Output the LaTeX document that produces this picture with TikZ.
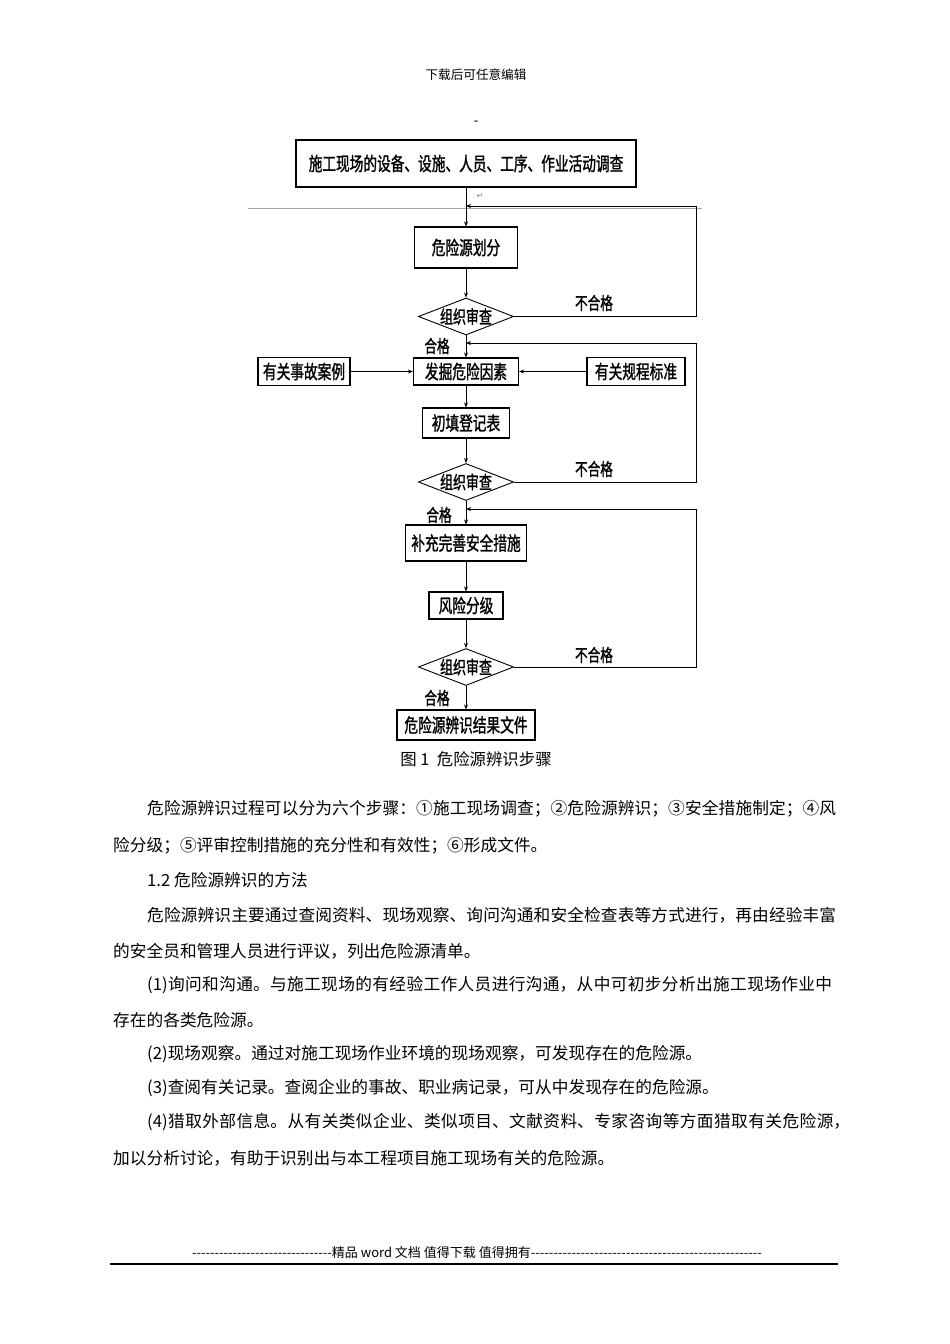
\documentclass[tikz,border=0pt]{standalone}
\usepackage{fontspec}
\setmainfont{Noto Sans CJK SC}
\newfontfamily\flowfont[FakeStretch=0.72,FakeBold=1.2]{Noto Sans CJK SC}
\newfontfamily\symfont{DejaVu Sans}
\usetikzlibrary{shapes.geometric,arrows.meta}
\newcommand\jline[2]{\parbox[c]{#1}{\XeTeXlinebreaklocale "zh"\XeTeXlinebreakskip=0pt plus 1fil\relax\parfillskip=0pt\relax\noindent #2}}
\begin{document}
\begin{tikzpicture}[x=1pt,y=-1pt,
  box/.style={draw,line width=1.2pt,inner sep=0pt,font=\flowfont\fontsize{19}{19}\selectfont},
  dia/.style={draw,diamond,aspect=2.6,inner sep=0pt,line width=0.9pt,minimum width=95pt,minimum height=37pt,font=\flowfont\fontsize{18}{18}\selectfont},
  lab/.style={inner sep=0pt,font=\flowfont\fontsize{17.5}{18}\selectfont},
  arr/.style={line width=0.9pt,-{Stealth[length=5pt,width=4pt]}},
  body/.style={anchor=west,inner sep=0pt,font=\fontsize{16.7}{20}\selectfont},
]
\fill[white] (0,0) rectangle (950,1344);
\useasboundingbox (0,0) rectangle (950,1344);

% header
\node[inner sep=0pt,font=\fontsize{12.6}{13}\selectfont] (hdr) at (476,75) {下载后可任意编辑};
\node[inner sep=0pt,font=\fontsize{14}{14}\selectfont] (dash) at (476,123) {-};

% flowchart nodes
\node[box,minimum width=340,minimum height=47] (b1) at (466,163.5) {施工现场的设备、设施、人员、工序、作业活动调查};
\node[inner sep=0pt,font=\symfont\fontsize{8}{8}\selectfont,text=gray] (ret) at (480,196) {↵};
\coordinate (g1) at (248,208);
\coordinate (g2) at (702,208);
\draw[gray!70,line width=0.8pt] (g1) -- (g2);

\node[box,minimum width=103,minimum height=41] (b2) at (466,247.5) {危险源划分};
\node[dia] (d1) at (466,316.5) {组织审查};
\node[box,minimum width=105,minimum height=27] (b3) at (466,371.5) {发掘危险因素};
\node[box,minimum width=92,minimum height=28] (la) at (304,371.5) {有关事故案例};
\node[box,minimum width=98,minimum height=28] (ra) at (636,371.5) {有关规程标准};
\node[box,minimum width=87,minimum height=30] (b4) at (466,423) {初填登记表};
\node[dia] (d2) at (466,482) {组织审查};
\node[box,minimum width=121,minimum height=36] (b5) at (466,543) {补充完善安全措施};
\node[box,minimum width=74,minimum height=27] (b6) at (466,605.5) {风险分级};
\node[dia] (d3) at (466,667) {组织审查};
\node[box,minimum width=138,minimum height=30] (b7) at (466,725) {危险源辨识结果文件};

% labels
\node[lab] (n1) at (594,303) {不合格};
\node[lab] (n2) at (594,469) {不合格};
\node[lab] (n3) at (594,655) {不合格};
\node[lab] (p1) at (437,346) {合格};
\node[lab] (p2) at (439,515) {合格};
\node[lab] (p3) at (437,698) {合格};

% loop coordinates
\coordinate (j1) at (466,206);
\coordinate (r1) at (696,206);
\coordinate (j2) at (466,343);
\coordinate (r2) at (696,343);
\coordinate (j3) at (466,509);
\coordinate (r3) at (696,509);

% connectors
\draw[arr] (b1) -- (b2);
\draw[arr] (b2) -- (d1);
\draw[arr] (d1.south) -- (b3.north);
\draw[arr] (la) -- (b3);
\draw[arr] (ra) -- (b3);
\draw[arr] (b3) -- (b4);
\draw[arr] (b4) -- (d2.north);
\draw[arr] (d2.south) -- (b5.north);
\draw[arr] (b5) -- (b6);
\draw[arr] (b6) -- (d3.north);
\draw[arr] (d3.south) -- (b7.north);

\draw[arr] (d1.east) -- (d1.east -| r1) -- (r1) -- (j1);
\draw[arr] (d2.east) -- (d2.east -| r2) -- (r2) -- (j2);
\draw[arr] (d3.east) -- (d3.east -| r3) -- (r3) -- (j3);

% caption
\node[inner sep=0pt,font=\fontsize{16.4}{17}\selectfont] (cap) at (476,759) {图 1\ \ 危险源辨识步骤};

% body text
\node[body] (t1) at (147,809) {\jline{689pt}{危险源辨识过程可以分为六个步骤：①施工现场调查；②危险源辨识；③安全措施制定；④风}};
\node[body] (t2) at (113,846) {险分级；⑤评审控制措施的充分性和有效性；⑥形成文件。};
\node[body] (t3) at (147,880) {1.2 危险源辨识的方法};
\node[body] (t4) at (147,915) {\jline{689pt}{危险源辨识主要通过查阅资料、现场观察、询问沟通和安全检查表等方式进行，再由经验丰富}};
\node[body] (t5) at (113,951) {的安全员和管理人员进行评议，列出危险源清单。};
\node[body] (t6) at (147,985) {\jline{685pt}{(1)询问和沟通。与施工现场的有经验工作人员进行沟通，从中可初步分析出施工现场作业中}};
\node[body] (t7) at (113,1020) {存在的各类危险源。};
\node[body] (t8) at (147,1054) {(2)现场观察。通过对施工现场作业环境的现场观察，可发现存在的危险源。};
\node[body] (t9) at (147,1088) {(3)查阅有关记录。查阅企业的事故、职业病记录，可从中发现存在的危险源。};
\node[body] (t10) at (147,1122) {\jline{703pt}{(4)猎取外部信息。从有关类似企业、类似项目、文献资料、专家咨询等方面猎取有关危险源，}};
\node[body] (t11) at (113,1158) {加以分析讨论，有助于识别出与本工程项目施工现场有关的危险源。};

% footer
\node[inner sep=0pt,font=\fontsize{13}{14}\selectfont] (ftr) at (477,1253) {\makebox[572pt]{\xleaders\hbox{-}\hskip 0pt plus 135fil 精品 word 文档 值得下载 值得拥有\xleaders\hbox{-}\hskip 0pt plus 223fil}};
\coordinate (f1) at (110,1264);
\coordinate (f2) at (838,1264);
\draw[line width=1.3pt] (f1) -- (f2);
\end{tikzpicture}
\end{document}
